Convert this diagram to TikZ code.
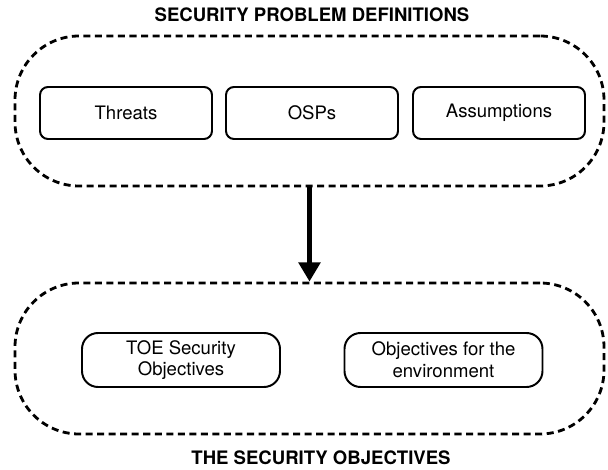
\documentclass[tikz,border=0pt]{standalone}
\usepackage{fontspec}
\setmainfont{TeX Gyre Heros}
\usetikzlibrary{arrows.meta}

\begin{document}
\begin{tikzpicture}[
    every node/.style={font=\fontsize{13.2}{15.5}\selectfont},
    group/.style={draw, line width=2pt, dash pattern=on 5pt off 3.2pt,
      rounded corners=1.6cm, minimum width=14.725cm, minimum height=3.75cm},
    item/.style={draw, line width=1.4pt, rounded corners=0.2cm,
      minimum width=4.3cm, minimum height=1.3cm},
    goal/.style={draw, line width=1.4pt, rounded corners=0.4cm,
      minimum width=4.95cm, minimum height=1.35cm, align=center},
    caption/.style={font=\fontsize{13.2}{15.5}\selectfont\bfseries}
  ]

    \useasboundingbox (0, 0) rectangle (15.2, -11.75);

    \coordinate (SPD) at (7.7375, -2.775);
    \coordinate (SO) at (7.7375, -8.9625);

    \node[group] (spd) at (SPD) {};
    \node[group, minimum height=3.775cm] (so) at (SO) {};

    \node[item] (threats) at (3.15, -2.825) {Threats};
    \node[item] (osps) at (7.8, -2.825) {OSPs};
    \node[item] (assumptions) at (12.475, -2.825) {Assumptions};

    \node[goal] (toe) at (4.525, -9.0) {TOE Security\\Objectives};
    \node[goal] (env) at (11.0875, -9.0) {Objectives for the\\environment};

    \draw[line width=3.5pt, -{Triangle[length=0.48cm, width=0.53cm]}]
    (spd.south) -- (so.north);

    \node[caption] (spdtitle) at (7.8, -0.375) {SECURITY PROBLEM DEFINITIONS};
    \node[caption] (sotitle) at (8.025, -11.45) {THE SECURITY OBJECTIVES};

  \end{tikzpicture}
\end{document}
